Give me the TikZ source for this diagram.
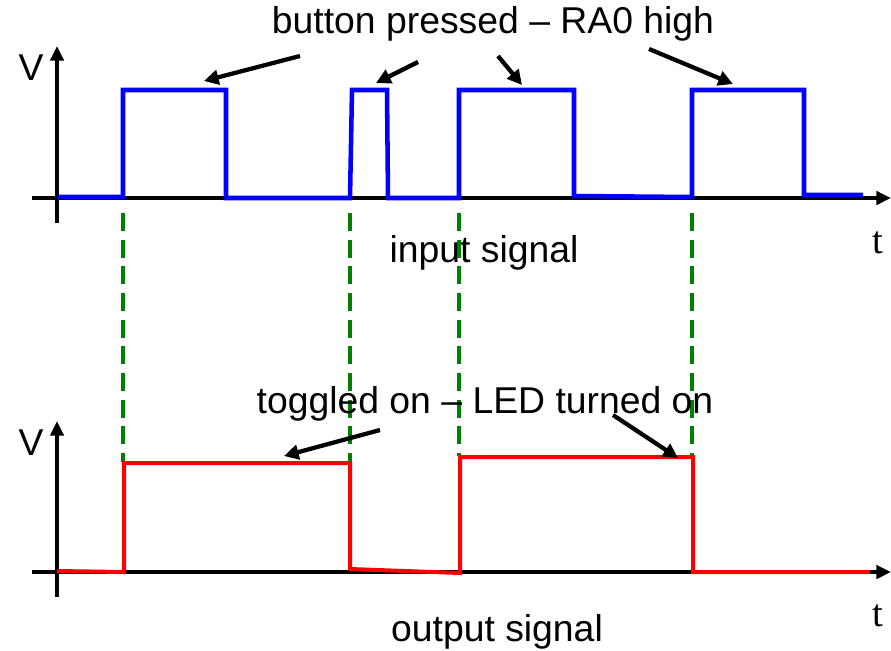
\documentclass[tikz,border=0pt]{standalone}
\usepackage{fontspec}
\setmainfont{Liberation Sans}
\newfontfamily\serifT{Liberation Serif}
\usetikzlibrary{arrows.meta}
\begin{document}
\begin{tikzpicture}[x=0.75pt,y=-0.75pt,
  axisline/.style={line width=2.6pt,-{Triangle[length=11pt,width=10pt]}},
  pointer/.style={line width=3.2pt,-{Triangle[length=11pt,width=11pt]}},
  lbl/.style={font=\fontsize{28}{31}\selectfont,inner sep=0pt},
  tlbl/.style={font=\fontsize{29}{31}\selectfont\serifT,inner sep=0pt},
  bluesig/.style={line width=3.4pt,draw={rgb,255:red,0;green,0;blue,255},line join=miter},
  redsig/.style={line width=3pt,draw={rgb,255:red,255;green,0;blue,0},line join=miter},
  guide/.style={line width=2.6pt,draw={rgb,255:red,0;green,128;blue,0},dash pattern=on 13.5pt off 6.5pt}]
\useasboundingbox (0,0) rectangle (891,650);

% ---------- top axes ----------
\coordinate (xa0) at (32,198);
\coordinate (xa1) at (891,198);
\coordinate (ya0) at (57,223);
\coordinate (ya1) at (57,46);
\draw[axisline] (xa0) -- (xa1);
\draw[axisline] (ya0) -- (ya1);
\node[lbl] (V1) at (31,68) {V};
\node[tlbl] (t1) at (878,243) {t};
\node[lbl] (in) at (484,253) {input signal};

% ---------- bottom axes ----------
\coordinate (xb0) at (32,572);
\coordinate (xb1) at (891,572);
\coordinate (yb0) at (57,597);
\coordinate (yb1) at (57,421);
\draw[axisline] (xb0) -- (xb1);
\draw[axisline] (yb0) -- (yb1);
\node[lbl] (V2) at (31,443) {V};
\node[tlbl] (t2) at (878,616) {t};
\node[lbl] (out) at (497,632) {output signal};

% ---------- guides ----------
\foreach \gx/\gy in {123/462,350/462,459/456,692/456}
  \draw[guide] (\gx,213) -- (\gx,\gy);

% ---------- input signal ----------
\draw[bluesig] (57,197) -- (123,197) -- (123,90) -- (226,90) -- (226,198) -- (350,198)
  -- (352,90) -- (387,90) -- (388,198) -- (459,198) -- (459,90) -- (574,90) -- (574,196)
  -- (692,197) -- (692,90) -- (804,90) -- (804,195) -- (863,195);

% ---------- output signal ----------
\draw[redsig] (57,571) -- (124,572) -- (124,463) -- (350,463) -- (350,569) -- (460,573)
  -- (460,457) -- (693,457) -- (693,572) -- (870,572);

% ---------- labels and pointers ----------
\node[lbl] (btn) at (493,24) {button pressed -- RA0 high};
\coordinate (p1s) at (300,56);  \coordinate (p1e) at (204,81);
\coordinate (p2s) at (418,62);  \coordinate (p2e) at (376,83);
\coordinate (p3s) at (498,56);  \coordinate (p3e) at (522,85);
\coordinate (p4s) at (649,49);  \coordinate (p4e) at (733,84);
\draw[pointer] (p1s) -- (p1e);
\draw[pointer] (p2s) -- (p2e);
\draw[pointer] (p3s) -- (p3e);
\draw[pointer] (p4s) -- (p4e);

\node[lbl] (tog) at (485,404) {toggled on -- LED turned on};
\coordinate (q1s) at (380,430); \coordinate (q1e) at (284,456);
\coordinate (q2s) at (613,415); \coordinate (q2e) at (678,458);
\draw[pointer] (q1s) -- (q1e);
\draw[pointer] (q2s) -- (q2e);
\end{tikzpicture}
\end{document}
